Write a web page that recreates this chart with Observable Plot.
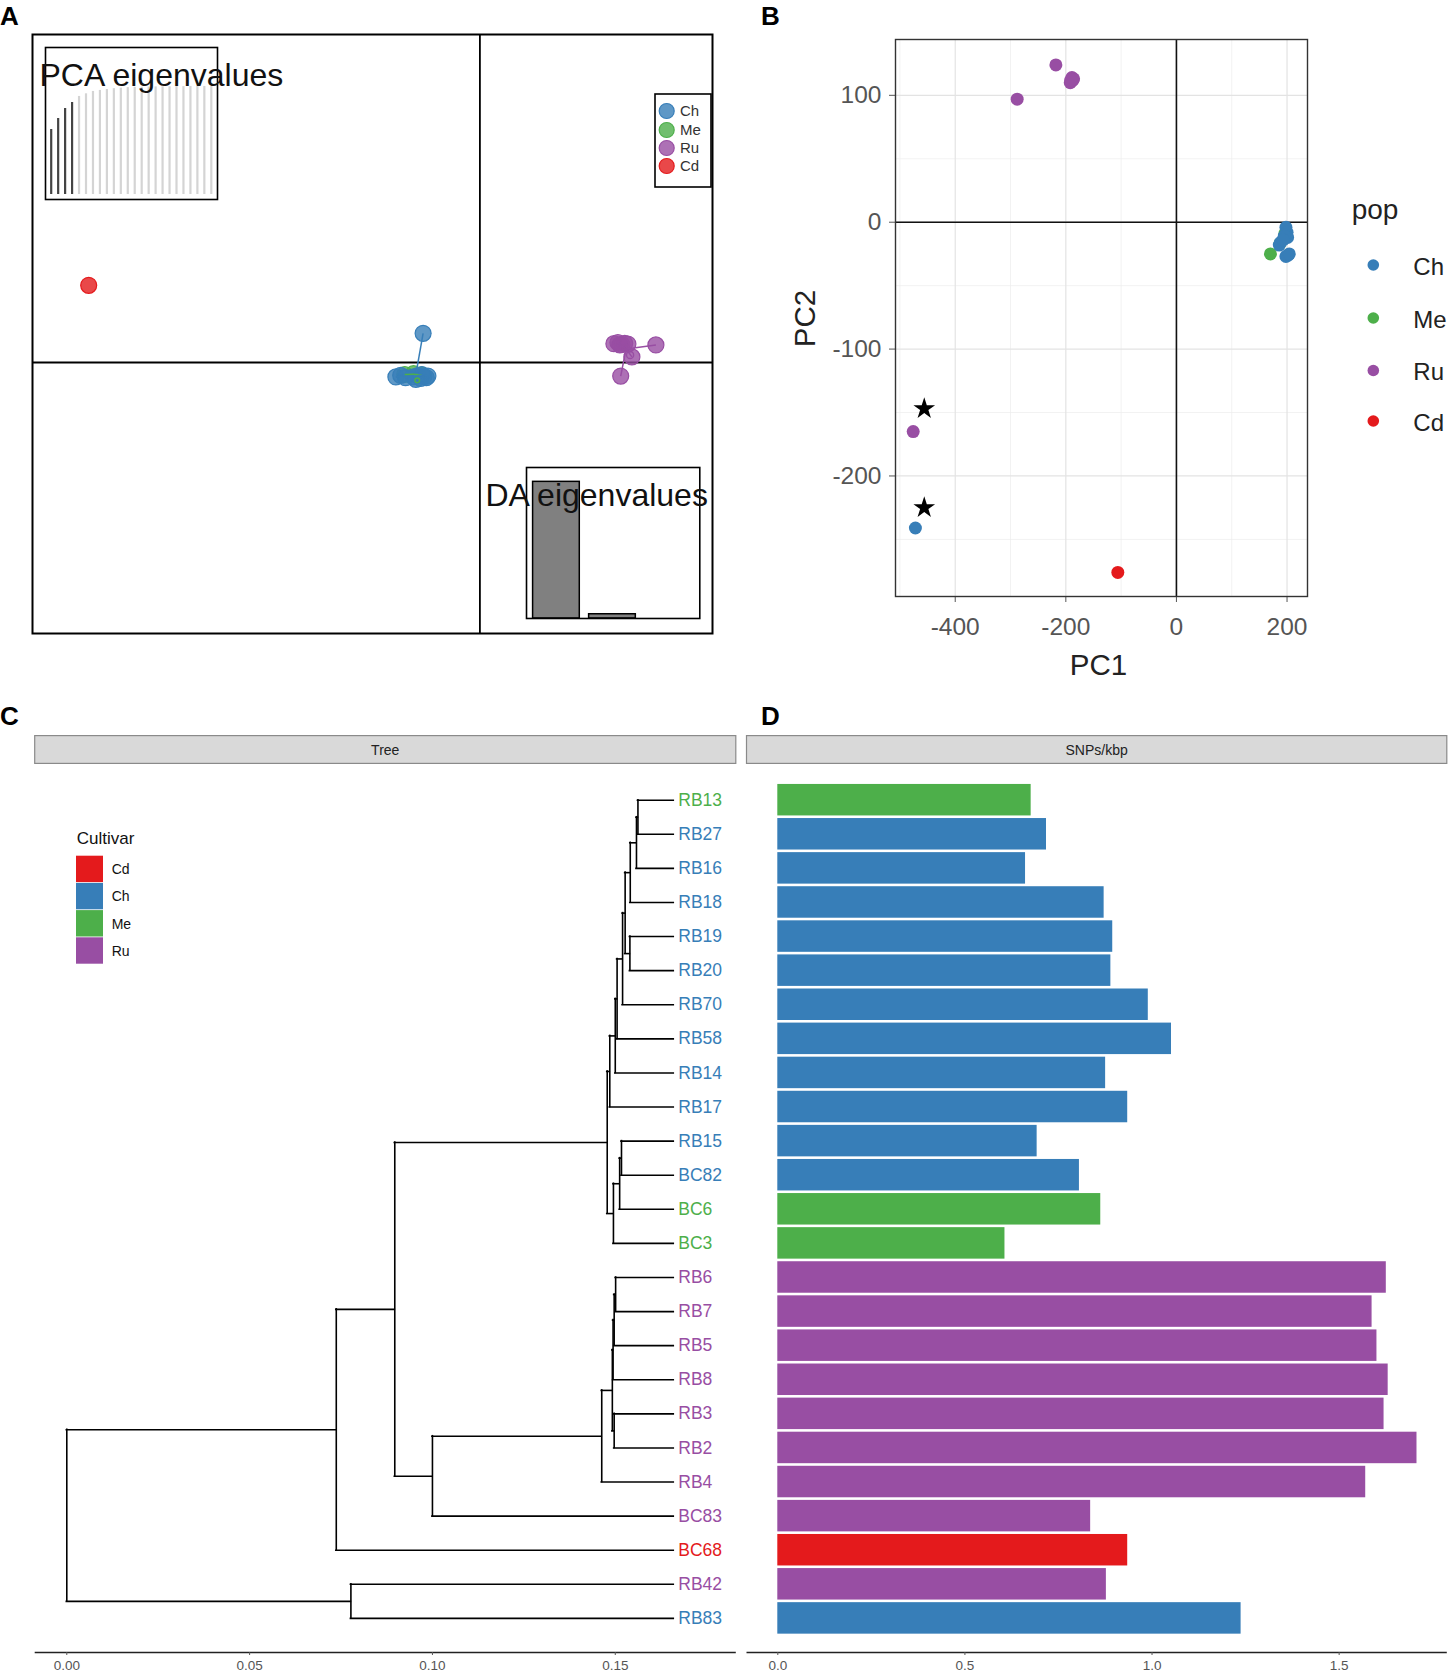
<!DOCTYPE html>
<html><head><meta charset="utf-8">
<script src="https://cdn.jsdelivr.net/npm/d3@7"></script>
<script src="https://cdn.jsdelivr.net/npm/@observablehq/plot@0.6"></script>
<style>
body{margin:0;background:#fff;}
#page{position:relative;width:1452px;height:1676px;overflow:hidden;font-family:"Liberation Sans",Arial,sans-serif;background:#fff;}
#page svg.p{position:absolute;max-width:none;}
</style></head><body><div id="page"></div>
<script>
// ================= DATA =================
const groups = ["Ch", "Me", "Ru", "Cd"];
const groupColors = ["#377EB8", "#4DAF4A", "#984EA3", "#E41A1C"];
const cultivarOrder = ["Cd", "Ch", "Me", "Ru"];

// Panel A: DAPC scatter (discriminant functions 1 and 2)
const daGroup = ["Ch","Ch","Ch","Ch","Ch","Ch","Ch","Ch","Ch","Ch","Ch","Ch",
                 "Me","Me","Me",
                 "Ru","Ru","Ru","Ru","Ru","Ru","Ru","Ru","Ru",
                 "Cd"];
const daLD1 = [-1.42,-2.10,-1.98,-1.86,-1.66,-1.55,-1.48,-1.40,-1.34,-1.30,-1.60,-1.45,
               -1.88,-1.66,-1.46,
               3.35,3.45,3.55,3.62,3.50,3.70,4.40,3.80,3.52,
               -9.78];
const daLD2 = [0.73,-0.36,-0.32,-0.38,-0.36,-0.33,-0.40,-0.35,-0.38,-0.34,-0.42,-0.30,
               -0.30,-0.28,-0.31,
               0.47,0.50,0.45,0.48,0.44,0.46,0.44,0.14,-0.34,
               1.93];
// PCA eigenvalues inset (cumulative variance, %), first 4 retained
const pcaCumVar = [44.2,51.7,58.5,62.6,66.7,68.5,70.1,70.8,71.4,72.0,72.4,72.7,72.9,73.0,73.1,73.2,73.3,73.3,73.4,73.4,73.5,73.5,73.5,73.5];
const pcaRetained = 4;
// DA eigenvalues inset (relative)
const daEigen = [100, 3.1];

// Panel B: PCA
const pcGroup = ["Me","Me","Me",
                 "Ch","Ch","Ch","Ch","Ch","Ch","Ch","Ch","Ch","Ch","Ch","Ch",
                 "Ru","Ru","Ru","Ru","Ru","Ru","Ru","Ru","Ru",
                 "Cd"];
const pc1 = [170,187,196,
             198,200,197,201,195,188,186,202,198,204,193,-472,
             -288,-218,-190,-186,-192,-189,-187,-191,-476,
             -106];
const pc2 = [-25,-17,-9,
             -4,-8,-10,-12,-11,-16,-18,-26,-27,-25,-14,-241,
             97,124,111,113,110,114,112,112,-165,
             -276];
const starPC1 = [-456, -456];
const starPC2 = [-147, -225];
const pcTicksX = [-400, -200, 0, 200];
const pcTicksY = [-200, -100, 0, 100];

// Panel C: tree
const tipLabels = ["RB13","RB27","RB16","RB18","RB19","RB20","RB70","RB58","RB14","RB17","RB15","BC82","BC6","BC3",
                   "RB6","RB7","RB5","RB8","RB3","RB2","RB4","BC83","BC68","RB42","RB83"];
const tipCultivar = ["Me","Ch","Ch","Ch","Ch","Ch","Ch","Ch","Ch","Ch","Ch","Ch","Me","Me",
                     "Ru","Ru","Ru","Ru","Ru","Ru","Ru","Ru","Cd","Ru","Ch"];
const tipDepth = 0.166;
const nodeNames  = ["a","b","c","d","e","f","g","h","i","j","k","l","m","p1","p2","p3","p4","p5","p6","q","r","s","t","root"];
const nodeChildA = ["RB13","a","b","RB19","c","e","f","g","h","RB15","j","k","i","RB6","p1","p2","RB3","p3","p5","p6","m","r","RB42","s"];
const nodeChildB = ["RB27","RB16","RB18","RB20","d","RB70","RB58","RB14","RB17","BC82","BC6","BC3","l","RB7","RB5","RB8","RB2","p4","RB4","BC83","q","BC68","RB83","t"];
const nodeDepth  = [0.1562,0.1558,0.1541,0.1540,0.1527,0.1520,0.1505,0.1500,0.1485,0.1517,0.1512,0.1495,0.1478,
                    0.1501,0.1497,0.1494,0.1497,0.1492,0.1463,0.1000,0.0897,0.0737,0.0777,0.0];
const treeTicks = [0, 0.05, 0.10, 0.15];

// Panel D: SNPs per kbp
const snpsPerKbp = [0.677,0.718,0.662,0.872,0.895,0.890,0.990,1.052,0.876,0.935,0.693,0.806,0.863,0.607,
                    1.626,1.588,1.601,1.631,1.620,1.708,1.571,0.836,0.935,0.878,1.238];
const snpTicks = [0, 0.5, 1.0, 1.5];

// ================= HELPERS =================
const page = document.getElementById("page");
const colorOf = g => groupColors[groups.indexOf(g)];
const colorScale = {domain: groups, range: groupColors};
const FONT = '"Liberation Sans", Arial, sans-serif';
function place(el, left, top) {
  el.classList.add("p");
  el.style.left = left + "px";
  el.style.top = top + "px";
  page.appendChild(el);
}
const baseStyle = {background: "transparent", fontFamily: FONT, overflow: "visible"};

// ================= PANEL A =================
const daPts = daGroup.map((g, i) => ({g, x: daLD1[i], y: daLD2[i]}));
const daCent = groups.map(g => {
  const p = daPts.filter(d => d.g === g);
  return {g, x: d3.mean(p, d => d.x), y: d3.mean(p, d => d.y)};
});
const centOf = g => daCent.find(c => c.g === g);
const ringR = {Ch: 21, Me: 7, Ru: 16, Cd: 0};

const plotA = Plot.plot({
  width: 684, height: 603, margin: 2,
  x: {domain: [-11.185, 5.815], axis: null},
  y: {domain: [-6.775, 8.2], axis: null},
  color: colorScale,
  style: baseStyle,
  marks: [
    Plot.ruleX([0], {stroke: "black", strokeWidth: 1.8}),
    Plot.ruleY([0], {stroke: "black", strokeWidth: 1.8}),
    Plot.dot(daPts.filter(d => d.g === "Me"), {x: "x", y: "y", r: 8, fill: "g", fillOpacity: 0.8, stroke: "g", strokeWidth: 1.2}),
    Plot.dot(daPts.filter(d => d.g !== "Me"), {x: "x", y: "y", r: 8, fill: "g", fillOpacity: 0.8, stroke: "g", strokeWidth: 1.2}),
    Plot.link(daPts, {x1: d => centOf(d.g).x, y1: d => centOf(d.g).y, x2: "x", y2: "y", stroke: "g", strokeWidth: 1.5}),
    Plot.dot(daCent.filter(c => ringR[c.g] > 0), {x: "x", y: "y", r: c => ringR[c.g], stroke: "g", fill: "none", strokeWidth: 1.4, dx: 4, dy: 6}),
    Plot.frame({stroke: "black", strokeWidth: 2})
  ]
});
place(plotA, 30, 32);

// PCA eigenvalue inset
const pcaBars = pcaCumVar.map((v, i) => ({k: i + 1, v, kept: i < pcaRetained}));
const plotPCA = Plot.plot({
  width: 174, height: 154, margin: 1,
  x: {domain: [0.181, 24.89], axis: null},
  y: {domain: [-3.4, 100], axis: null},
  style: baseStyle,
  marks: [
    Plot.frame({fill: "white", stroke: "none"}),
    Plot.ruleX(pcaBars, {x: "k", y1: 0, y2: "v", stroke: d => d.kept ? "#444" : "#d4d4d4", strokeWidth: 2.2}),
    Plot.frame({stroke: "black", strokeWidth: 1.6})
  ]
});
place(plotPCA, 44, 46);

// DA eigenvalue inset
const daBars = daEigen.map((v, i) => ({x1: 0.2 + 1.2 * i, x2: 1.2 + 1.2 * i, v}));
const plotDA = Plot.plot({
  width: 175.3, height: 153, margin: 1,
  x: {domain: [0.059, 3.77], axis: null},
  y: {domain: [0, 110.5], axis: null},
  style: baseStyle,
  marks: [
    Plot.frame({fill: "white", stroke: "none"}),
    Plot.rectY(daBars, {x1: "x1", x2: "x2", y1: 0, y2: "v", fill: "#808080", stroke: "black", strokeWidth: 1.5}),
    Plot.frame({stroke: "black", strokeWidth: 1.6})
  ]
});
place(plotDA, 524.7, 466.3);

// ================= PANEL B =================
const pcPts = pcGroup.map((g, i) => ({g, x: pc1[i], y: pc2[i]}));
const stars = starPC1.map((x, i) => ({x, y: starPC2[i]}));
const minorX = d3.range(-500, 240, 100).filter(v => !pcTicksX.includes(v));
const minorY = d3.range(-250, 150, 50).filter(v => !pcTicksY.includes(v));
const plotB = Plot.plot({
  width: 692, height: 680,
  marginLeft: 135, marginRight: 145, marginTop: 39, marginBottom: 84,
  x: {domain: [-508, 237], axis: null},
  y: {domain: [-295, 144], axis: null},
  color: colorScale,
  style: baseStyle,
  marks: [
    Plot.ruleX(minorX, {stroke: "#ececec", strokeWidth: 0.7}),
    Plot.ruleY(minorY, {stroke: "#ececec", strokeWidth: 0.7}),
    Plot.ruleX(pcTicksX, {stroke: "#e3e3e3", strokeWidth: 1.2}),
    Plot.ruleY(pcTicksY, {stroke: "#e3e3e3", strokeWidth: 1.2}),
    Plot.ruleX([0], {stroke: "#111", strokeWidth: 1.6}),
    Plot.ruleY([0], {stroke: "#111", strokeWidth: 1.6}),
    Plot.dot(pcPts, {x: "x", y: "y", r: 6.5, fill: "g"}),
    Plot.dot(stars, {x: "x", y: "y", symbol: "star", r: 6.8, fill: "black"}),
    Plot.axisX({ticks: pcTicksX, tickFormat: d => `${d}`, tickSize: 6, tickPadding: 15, fontSize: 24.5, color: "#555", label: null}),
    Plot.axisY({ticks: pcTicksY, tickFormat: d => `${d}`, tickSize: 6, tickPadding: 8, fontSize: 24.5, color: "#555", label: null}),
    Plot.frame({stroke: "#333", strokeWidth: 1.4})
  ]
});
place(plotB, 760, 0);

// ================= PANEL C (tree) =================
const nodes = new Map();
tipLabels.forEach((t, i) => nodes.set(t, {x: tipDepth, y: i}));
nodeNames.forEach((n, k) => {
  const a = nodes.get(nodeChildA[k]), b = nodes.get(nodeChildB[k]);
  nodes.set(n, {x: nodeDepth[k], y: (a.y + b.y) / 2, kids: [a, b]});
});
const hEdges = [], vEdges = [];
nodeNames.forEach(n => {
  const N = nodes.get(n);
  N.kids.forEach(K => hEdges.push({y: K.y, x1: N.x, x2: K.x}));
  vEdges.push({x: N.x, y1: Math.min(N.kids[0].y, N.kids[1].y), y2: Math.max(N.kids[0].y, N.kids[1].y)});
});
const tips = tipLabels.map((t, i) => ({t, i, c: tipCultivar[i], v: snpsPerKbp[i]}));

const plotC = Plot.plot({
  width: 740, height: 936,
  marginLeft: 34.7, marginRight: 4.2, marginTop: 25.6, marginBottom: 24,
  x: {domain: [-0.00864, 0.1831], axis: null},
  y: {domain: [25, -1], axis: null},
  color: colorScale,
  style: baseStyle,
  marks: [
    Plot.ruleY(hEdges, {y: "y", x1: "x1", x2: "x2", stroke: "black", strokeWidth: 1.6, strokeLinecap: "square"}),
    Plot.ruleX(vEdges, {x: "x", y1: "y1", y2: "y2", stroke: "black", strokeWidth: 1.6, strokeLinecap: "square"}),
    Plot.text(tips, {x: tipDepth, y: "i", text: "t", fill: "c", dx: 4.5, textAnchor: "start", fontSize: 17.5}),
    Plot.ruleY([25], {stroke: "#222", strokeWidth: 1.6}),
    Plot.axisX({ticks: treeTicks, tickFormat: d3.format(".2f"), tickSize: 3, tickPadding: 5, fontSize: 13.5, color: "#555", label: null})
  ]
});
place(plotC, 0, 740);

// ================= PANEL D (bars) =================
const plotD = Plot.plot({
  width: 712, height: 936,
  marginLeft: 6.5, marginRight: 5.2, marginTop: 25.6, marginBottom: 24,
  x: {domain: [-0.0823, 1.789], axis: null},
  y: {domain: [25, -1], axis: null},
  color: colorScale,
  style: baseStyle,
  marks: [
    Plot.rectX(tips, {x1: 0, x2: "v", y1: d => d.i - 0.5, y2: d => d.i + 0.5, insetTop: 1.3, insetBottom: 1.3, fill: "c"}),
    Plot.ruleY([25], {stroke: "#222", strokeWidth: 1.6}),
    Plot.axisX({ticks: snpTicks, tickFormat: d3.format(".1f"), tickSize: 3, tickPadding: 5, fontSize: 13.5, color: "#555", label: null})
  ]
});
place(plotD, 740, 740);

// ================= OVERLAY TEXT / LEGENDS =================
const ov = d3.select(page).append("svg")
  .attr("class", "p").attr("width", 1452).attr("height", 1676)
  .style("left", "0px").style("top", "0px").style("pointer-events", "none")
  .style("font-family", FONT);

// panel letters
[["A", 0, 25], ["B", 761, 25], ["C", 0, 725], ["D", 761, 725]].forEach(([t, x, y]) =>
  ov.append("text").attr("x", x).attr("y", y).attr("font-size", 26).attr("font-weight", "bold").text(t));

// inset titles
ov.append("text").attr("x", 39.5).attr("y", 86).attr("font-size", 32).attr("fill", "#111").text("PCA eigenvalues");
ov.append("text").attr("x", 485.5).attr("y", 506).attr("font-size", 32).attr("fill", "#111").text("DA eigenvalues");

// legend A
ov.append("rect").attr("x", 655).attr("y", 94).attr("width", 56).attr("height", 93)
  .attr("fill", "white").attr("stroke", "black").attr("stroke-width", 1.6);
const legAy = [111, 130, 148, 166];
groups.forEach((g, i) => {
  ov.append("circle").attr("cx", 666.7).attr("cy", legAy[i]).attr("r", 7.5)
    .attr("fill", colorOf(g)).attr("fill-opacity", 0.8).attr("stroke", colorOf(g)).attr("stroke-width", 1.2);
  ov.append("text").attr("x", 680).attr("y", legAy[i]).attr("dy", "0.36em").attr("font-size", 15).attr("fill", "#333").text(g);
});

// panel B axis titles + legend
ov.append("text").attr("x", 1098.5).attr("y", 675).attr("text-anchor", "middle").attr("font-size", 29.5).attr("fill", "#222").text("PC1");
ov.append("text").attr("transform", "translate(814.5,318.6) rotate(-90)").attr("text-anchor", "middle").attr("font-size", 29.5).attr("fill", "#222").text("PC2");
ov.append("text").attr("x", 1351.7).attr("y", 219).attr("font-size", 28).attr("fill", "#222").text("pop");
const legBy = [265, 318, 370.5, 421];
groups.forEach((g, i) => {
  ov.append("circle").attr("cx", 1373.3).attr("cy", legBy[i]).attr("r", 5.8).attr("fill", colorOf(g));
  ov.append("text").attr("x", 1413.3).attr("y", legBy[i] + 1).attr("dy", "0.36em").attr("font-size", 24).attr("fill", "#222").text(g);
});

// strips
[["Tree", 34.7, 735.8], ["SNPs/kbp", 746.5, 1446.8]].forEach(([t, x0, x1]) => {
  ov.append("rect").attr("x", x0).attr("y", 735.6).attr("width", x1 - x0).attr("height", 27.8)
    .attr("fill", "#d9d9d9").attr("stroke", "#8a8a8a").attr("stroke-width", 1.2);
  ov.append("text").attr("x", (x0 + x1) / 2).attr("y", 749.5).attr("dy", "0.36em").attr("text-anchor", "middle")
    .attr("font-size", 14).attr("fill", "#222").text(t);
});

// legend C
ov.append("text").attr("x", 76.7).attr("y", 844).attr("font-size", 17).attr("fill", "#111").text("Cultivar");
const legCy = [855.7, 882.9, 910.1, 937.3];
cultivarOrder.forEach((g, i) => {
  ov.append("rect").attr("x", 76).attr("y", legCy[i]).attr("width", 27).attr("height", 26.4).attr("fill", colorOf(g));
  ov.append("text").attr("x", 111.7).attr("y", legCy[i] + 13.5).attr("dy", "0.36em").attr("font-size", 14).attr("fill", "#111").text(g);
});
</script></body></html>
